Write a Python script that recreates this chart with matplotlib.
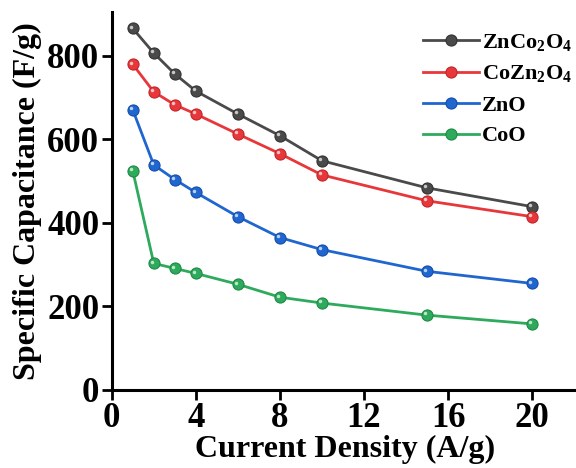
import matplotlib
matplotlib.use("Agg")
import matplotlib.pyplot as plt
from matplotlib.transforms import offset_copy

plt.rcParams['font.family'] = ['Liberation Serif', 'DejaVu Serif']
plt.rcParams['font.weight'] = 'bold'
plt.rcParams['mathtext.fontset'] = 'custom'
plt.rcParams['mathtext.rm'] = 'Liberation Serif:bold'
plt.rcParams['mathtext.bf'] = 'Liberation Serif:bold'

current = [1, 2, 3, 4, 6, 8, 10, 15, 20]
zn_co2o4 = [866, 807, 757, 716, 661, 609, 549, 484, 439]
co_zn2o4 = [780, 714, 683, 661, 613, 566, 515, 453, 415]
zno = [671, 539, 504, 473, 415, 365, 336, 284, 255]
coo = [525, 303, 291, 279, 253, 222, 208, 179, 158]

labels = [r'ZnCo$_\mathbf{2}$O$_\mathbf{4}$', r'CoZn$_\mathbf{2}$O$_\mathbf{4}$', 'ZnO', 'CoO']
colors = ['#4a4a4a', '#e8373a', '#1f66d0', '#2eaa5c']
edges = ['#333333', '#c22528', '#164fa8', '#1f8a45']
series = [zn_co2o4, co_zn2o4, zno, coo]

fig = plt.figure(figsize=(5.76, 4.68), dpi=100)
ax = fig.add_axes([0.194, 0.167, 0.81, 0.807])

# small highlight on each marker to mimic the shaded balls
hl = offset_copy(ax.transData, fig=fig, x=-1.2, y=1.2, units='points')

for vals, lab, col, ec in zip(series, labels, colors, edges):
    ax.plot(current, vals, '-o', color=col, lw=2, ms=8, mfc=col,
            mec=ec, mew=0.8, label=lab)
    ax.plot(current, vals, 'o', color='white', ms=2.5, alpha=0.7,
            mew=0, transform=hl)

ax.set_xlim(0, 22.2)
ax.set_ylim(0, 905)
ax.set_xticks([0, 4, 8, 12, 16, 20])
ax.set_yticks([0, 200, 400, 600, 800])
ax.spines['top'].set_visible(False)
ax.spines['right'].set_visible(False)
for s in ['left', 'bottom']:
    ax.spines[s].set_linewidth(2.2)
ax.tick_params(direction='out', length=7, width=2, labelsize=25, pad=2)
for t in ax.get_xticklabels() + ax.get_yticklabels():
    t.set_fontweight('bold')

ax.set_xlabel('Current Density (A/g)', fontsize=23, fontweight='bold', labelpad=0)
ax.set_ylabel('Specific Capacitance (F/g)', fontsize=23, fontweight='bold', labelpad=4)

leg = ax.legend(loc='upper right', frameon=False, fontsize=16, handlelength=2.5,
                handletextpad=0.15, labelspacing=0.45, bbox_to_anchor=(1.03, 1.0))

fig.savefig('out.png', dpi=100)
